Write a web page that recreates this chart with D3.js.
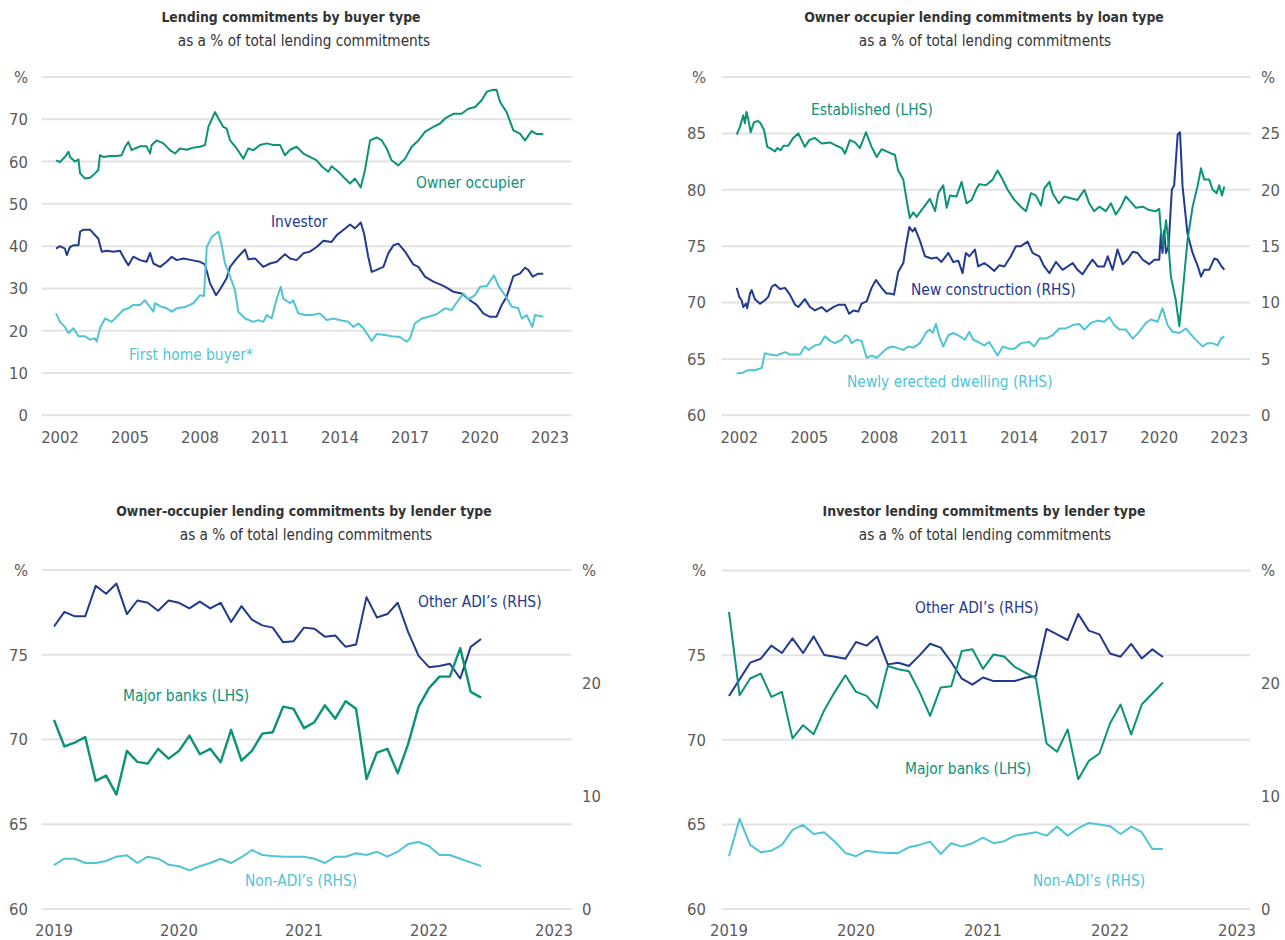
<!DOCTYPE html>
<html><head><meta charset="utf-8">
<script src="https://cdn.jsdelivr.net/npm/d3@7"></script>
<style>
body{margin:0;background:#fff;}
svg text{font-family:"Liberation Sans Narrow","Arial Narrow","DejaVu Sans Condensed",sans-serif;}
</style></head><body>
<svg id="c" width="1285" height="940"></svg>
<script>
// ---------- Panel 1: Lending commitments by buyer type ----------
const ownerDates = [2001.83,2002.00,2002.21,2002.36,2002.43,2002.64,2002.79,2002.86,2003.07,2003.29,2003.50,2003.64,2003.71,2003.86,2004.14,2004.43,2004.64,2004.79,2004.93,2005.07,2005.21,2005.43,2005.71,2005.86,2005.93,2006.14,2006.43,2006.71,2006.93,2007.14,2007.43,2007.71,2008.00,2008.21,2008.36,2008.64,2008.79,2009.00,2009.14,2009.29,2009.57,2009.86,2010.07,2010.29,2010.57,2010.86,2011.14,2011.43,2011.64,2011.86,2012.14,2012.43,2012.71,2013.00,2013.21,2013.50,2013.64,2013.93,2014.21,2014.43,2014.64,2014.89,2015.07,2015.29,2015.57,2015.79,2016.00,2016.21,2016.50,2016.79,2017.07,2017.36,2017.64,2018.00,2018.29,2018.50,2018.86,2019.21,2019.50,2019.79,2020.07,2020.29,2020.50,2020.71,2020.86,2021.14,2021.43,2021.71,2021.93,2022.21,2022.43,2022.71];
const ownerValues = [60.3,59.9,61.1,62.3,61.1,60.0,60.5,57.2,56.0,56.2,57.2,58.0,61.5,61.1,61.3,61.3,61.5,63.5,64.6,62.7,63.1,63.6,63.6,61.9,63.9,65.0,64.3,62.7,61.9,63.1,62.8,63.3,63.5,63.9,68.2,71.7,70.2,68.2,67.8,65.0,63.1,60.7,63.1,62.7,63.9,64.3,63.9,63.9,61.5,62.8,63.5,61.9,61.1,60.3,58.9,57.6,58.9,57.6,56.0,54.8,56.0,53.9,58.0,65.0,65.7,65.0,63.1,60.3,59.1,60.7,63.5,65.0,67.0,68.2,69.0,70.2,71.3,71.3,72.5,72.9,74.5,76.5,76.9,77.0,74.1,71.7,67.4,66.6,65.0,67.2,66.5,66.5];
const investorDates = [2001.83,2002.00,2002.21,2002.29,2002.43,2002.57,2002.79,2002.86,2003.00,2003.29,2003.43,2003.64,2003.79,2004.00,2004.29,2004.57,2004.79,2004.93,2005.14,2005.43,2005.71,2005.86,2006.00,2006.29,2006.57,2006.79,2007.00,2007.29,2007.64,2008.00,2008.21,2008.43,2008.69,2008.86,2009.14,2009.29,2009.57,2009.93,2010.07,2010.36,2010.71,2011.00,2011.29,2011.64,2011.86,2012.14,2012.43,2012.71,2013.00,2013.29,2013.64,2013.86,2014.14,2014.43,2014.64,2014.89,2015.03,2015.21,2015.36,2015.57,2015.86,2016.07,2016.29,2016.50,2016.79,2017.14,2017.36,2017.64,2018.00,2018.36,2018.57,2018.86,2019.21,2019.57,2019.86,2020.14,2020.43,2020.71,2020.93,2021.14,2021.43,2021.71,2021.93,2022.07,2022.26,2022.50,2022.71];
const investorValues = [39.4,40.0,39.4,37.9,39.8,40.2,40.2,43.4,43.9,43.9,43.0,41.8,38.7,38.9,38.7,38.9,36.7,35.5,37.5,36.7,36.3,38.4,35.9,35.1,36.3,37.5,36.7,37.1,36.7,36.3,35.7,31.2,28.4,29.8,32.4,35.1,37.1,39.2,36.9,37.1,35.1,35.9,36.3,38.1,37.1,36.7,38.3,38.7,39.8,41.3,41.0,42.6,43.8,45.1,44.2,45.6,43.0,37.5,33.9,34.4,35.1,38.3,40.2,40.6,38.7,35.7,35.1,32.8,31.6,30.8,30.2,29.2,28.8,27.2,26.1,24.1,23.3,23.3,26.1,28.0,32.9,33.5,34.9,34.4,32.8,33.5,33.5];
const fhbDates = [2001.83,2002.00,2002.21,2002.36,2002.57,2002.79,2003.07,2003.29,2003.50,2003.57,2003.71,2003.93,2004.21,2004.43,2004.71,2004.93,2005.14,2005.43,2005.64,2005.86,2006.00,2006.07,2006.29,2006.57,2006.79,2007.00,2007.36,2007.71,2008.00,2008.17,2008.29,2008.50,2008.79,2008.93,2009.07,2009.29,2009.50,2009.64,2009.93,2010.29,2010.50,2010.71,2010.86,2011.07,2011.29,2011.46,2011.57,2011.86,2012.00,2012.21,2012.50,2012.79,2013.14,2013.43,2013.71,2014.07,2014.36,2014.57,2014.79,2015.00,2015.36,2015.57,2015.93,2016.21,2016.57,2016.86,2017.00,2017.21,2017.50,2017.79,2018.14,2018.50,2018.79,2019.07,2019.29,2019.50,2019.79,2020.00,2020.29,2020.60,2020.79,2021.07,2021.36,2021.64,2021.79,2022.00,2022.24,2022.36,2022.71];
const fhbValues = [24.1,22.1,20.9,19.4,20.6,18.7,18.7,17.9,18.2,17.4,20.6,22.9,22.1,23.3,24.9,25.3,26.1,26.1,27.2,25.6,24.5,26.5,25.8,25.3,24.5,25.3,25.6,26.5,28.4,28.2,39.8,42.2,43.4,40.2,35.9,32.8,29.6,24.5,22.9,22.1,22.5,22.1,23.7,22.9,27.6,30.4,27.6,26.5,27.2,24.1,23.7,23.7,24.1,22.5,22.9,22.4,22.1,20.9,21.7,20.6,17.6,19.2,19.0,18.7,18.5,17.4,18.2,21.7,22.9,23.3,23.9,25.3,24.9,27.2,28.8,27.4,28.4,30.4,30.6,33.1,30.6,28.4,25.7,25.3,22.9,23.7,20.9,23.7,23.3];
const p1YTicks = [0,10,20,30,40,50,60,70,80];
const p1XTicks = [2002,2005,2008,2011,2014,2017,2020,2023];

// ---------- Panel 2: Owner occupier lending commitments by loan type ----------
const establishedDates = [2001.89,2002.03,2002.17,2002.24,2002.31,2002.39,2002.49,2002.63,2002.81,2002.91,2003.06,2003.20,2003.39,2003.53,2003.63,2003.77,2003.89,2004.10,2004.31,2004.53,2004.67,2004.81,2005.00,2005.24,2005.53,2005.89,2006.17,2006.39,2006.53,2006.74,2006.96,2007.17,2007.43,2007.67,2007.89,2008.10,2008.31,2008.53,2008.67,2008.81,2009.03,2009.17,2009.31,2009.46,2009.60,2009.81,2010.03,2010.17,2010.39,2010.53,2010.74,2010.89,2011.03,2011.31,2011.53,2011.74,2011.96,2012.17,2012.29,2012.57,2012.86,2013.07,2013.29,2013.50,2013.79,2014.07,2014.29,2014.50,2014.71,2014.93,2015.07,2015.29,2015.43,2015.69,2015.93,2016.29,2016.50,2016.79,2017.00,2017.21,2017.43,2017.71,2017.93,2018.14,2018.36,2018.57,2018.79,2019.00,2019.29,2019.57,2019.86,2020.00,2020.07,2020.17,2020.29,2020.36,2020.50,2020.71,2020.86,2021.00,2021.21,2021.43,2021.64,2021.79,2021.93,2022.14,2022.29,2022.46,2022.57,2022.69,2022.79];
const establishedValues = [84.9,85.6,86.6,85.9,86.9,86.2,85.1,86.0,86.1,85.9,85.3,83.8,83.6,83.4,83.7,83.5,83.9,83.9,84.6,85.0,84.4,83.8,84.4,84.6,84.1,84.2,83.9,83.7,83.2,84.4,84.2,83.7,85.1,83.8,82.9,83.6,83.4,83.2,83.1,81.7,80.9,79.1,77.5,78.0,77.6,78.2,78.8,79.2,78.1,79.7,80.4,78.4,79.5,79.4,80.7,78.8,79.1,80.1,80.5,80.4,80.9,81.7,80.9,80.0,79.1,78.5,78.1,79.7,79.5,78.6,80.1,80.7,79.7,78.8,79.4,79.2,79.1,80.0,78.8,78.1,78.5,78.1,78.8,77.8,78.5,79.4,78.9,78.4,78.5,78.2,78.1,78.3,76.4,75.0,77.3,76.1,72.3,70.2,67.9,70.8,75.5,78.5,80.3,81.9,80.9,80.9,80.0,79.7,80.4,79.5,80.3];
const newConDates = [2001.89,2002.00,2002.10,2002.17,2002.29,2002.34,2002.46,2002.53,2002.67,2002.89,2003.10,2003.24,2003.39,2003.53,2003.74,2003.96,2004.17,2004.39,2004.53,2004.81,2005.03,2005.24,2005.53,2005.74,2006.03,2006.24,2006.53,2006.71,2006.89,2007.10,2007.24,2007.46,2007.67,2007.86,2008.10,2008.31,2008.46,2008.63,2008.81,2009.03,2009.14,2009.29,2009.43,2009.53,2009.74,2009.96,2010.24,2010.46,2010.67,2010.96,2011.17,2011.39,2011.57,2011.71,2011.86,2012.10,2012.24,2012.50,2012.71,2012.93,2013.14,2013.36,2013.64,2013.86,2014.07,2014.36,2014.57,2014.86,2015.07,2015.29,2015.57,2015.86,2016.07,2016.29,2016.50,2016.71,2016.93,2017.14,2017.36,2017.64,2017.79,2018.00,2018.21,2018.43,2018.64,2018.86,2019.07,2019.29,2019.57,2019.79,2020.00,2020.07,2020.14,2020.21,2020.29,2020.40,2020.54,2020.64,2020.79,2020.89,2021.00,2021.21,2021.43,2021.64,2021.79,2021.93,2022.14,2022.36,2022.50,2022.64,2022.79];
const newConValues = [11.3,10.5,10.2,9.6,9.9,9.5,10.8,11.1,10.3,9.9,10.2,10.5,11.4,11.6,11.2,11.3,10.7,9.8,9.6,10.3,9.6,9.3,9.6,9.2,9.6,9.8,9.8,9.0,9.3,9.2,9.9,10.1,11.3,12.0,11.3,10.8,10.8,10.7,12.7,13.5,15.0,16.7,16.3,16.6,15.5,14.1,13.9,14.0,13.6,14.4,13.6,13.7,12.6,14.4,14.1,14.7,13.2,13.5,13.2,12.8,13.3,13.2,14.1,15.0,15.0,15.4,14.4,14.1,13.2,12.6,13.6,12.9,13.2,13.5,12.9,12.5,13.2,13.8,13.2,13.2,14.1,12.9,14.7,13.4,13.8,14.5,14.4,13.8,13.4,13.8,13.8,16.1,14.4,16.4,14.4,15.0,20.0,20.4,24.9,25.1,20.3,16.1,14.4,13.3,12.3,12.9,12.9,13.9,13.8,13.3,12.9];
const newlyDates = [2001.89,2002.17,2002.39,2002.67,2002.96,2003.10,2003.31,2003.60,2003.96,2004.17,2004.60,2004.81,2004.96,2005.24,2005.46,2005.67,2005.89,2006.10,2006.39,2006.53,2006.67,2006.81,2007.03,2007.24,2007.46,2007.67,2007.89,2008.10,2008.31,2008.53,2008.74,2009.03,2009.24,2009.46,2009.74,2010.03,2010.17,2010.29,2010.43,2010.57,2010.74,2010.96,2011.17,2011.46,2011.67,2011.86,2012.03,2012.24,2012.50,2012.71,2013.07,2013.29,2013.57,2013.79,2014.07,2014.43,2014.64,2014.86,2015.14,2015.43,2015.71,2016.00,2016.29,2016.57,2016.79,2017.07,2017.36,2017.64,2017.86,2018.07,2018.29,2018.57,2018.86,2019.14,2019.43,2019.64,2019.93,2020.14,2020.36,2020.57,2020.86,2021.14,2021.43,2021.71,2021.86,2022.07,2022.29,2022.50,2022.64,2022.79];
const newlyValues = [3.7,3.8,4.0,4.0,4.2,5.5,5.4,5.3,5.6,5.4,5.4,6.1,5.8,6.2,6.3,7.0,6.6,6.4,6.7,7.1,7.0,6.4,6.7,6.6,5.1,5.3,5.1,5.5,5.9,6.1,6.0,5.8,6.1,6.0,6.4,7.4,7.6,7.3,8.1,7.0,6.1,7.1,7.3,7.0,6.7,7.4,6.7,6.5,6.2,6.5,5.3,6.1,5.9,5.9,6.4,6.5,6.1,6.8,6.8,7.1,7.7,7.7,8.0,8.1,7.6,8.2,8.4,8.3,8.7,8.0,7.6,7.6,6.8,7.4,8.2,8.5,8.3,9.5,8.0,7.4,7.3,7.7,7.0,6.4,6.1,6.4,6.4,6.2,6.8,7.0];
const p2LeftTicks = [60,65,70,75,80,85,90];
const p2RightTicks = [0,5,10,15,20,25,30];

// ---------- Panels 3 & 4: monthly, Jan 2019 – Jun 2022 ----------
const lenderMonths = d3.range(42).map(i => 2019 + i / 12);
const ooMajorBanks = [71.16,69.59,69.82,70.14,67.56,67.87,66.75,69.33,68.68,68.58,69.45,68.87,69.33,70.23,69.13,69.45,68.66,70.57,68.75,69.33,70.35,70.43,71.94,71.81,70.67,71.02,72.02,71.23,72.26,71.81,67.66,69.23,69.45,68.01,69.74,71.94,73.03,73.71,73.71,75.39,72.81,72.47];
const ooOtherADIs = [25.0,26.3,25.9,25.9,28.6,27.9,28.8,26.1,27.3,27.1,26.4,27.3,27.1,26.6,27.2,26.6,27.1,25.4,26.8,25.6,25.1,24.9,23.6,23.7,24.9,24.8,24.1,24.2,23.2,23.4,27.6,25.8,26.1,27.1,24.5,22.4,21.4,21.5,21.7,20.4,23.2,23.9];
const ooNonADIs = [3.89,4.45,4.45,4.07,4.07,4.25,4.63,4.75,4.07,4.63,4.45,3.92,3.78,3.42,3.78,4.07,4.45,4.07,4.58,5.22,4.78,4.69,4.63,4.63,4.63,4.45,4.07,4.63,4.63,4.93,4.78,5.07,4.63,5.07,5.75,5.93,5.58,4.78,4.78,4.45,4.13,3.81];
const invMajorBanks = [77.55,72.63,73.62,73.91,72.53,72.83,70.08,70.86,70.33,71.75,72.83,73.81,72.83,72.59,71.88,74.36,74.17,74.05,72.83,71.41,73.09,73.16,75.25,75.35,74.19,75.04,74.92,74.30,73.97,73.62,69.78,69.29,70.61,67.66,68.75,69.19,70.96,72.08,70.31,72.08,72.73,73.38];
const invOtherADIs = [18.87,20.35,21.83,22.18,23.34,22.69,23.98,22.69,24.16,22.51,22.36,22.18,23.66,23.34,24.16,21.68,21.83,21.54,22.48,23.51,23.16,21.89,20.41,19.88,20.52,20.20,20.20,20.20,20.50,20.65,24.82,24.34,23.84,26.15,24.67,24.34,22.65,22.36,23.49,22.21,23.01,22.33];
const invNonADIs = [4.68,7.99,5.68,5.03,5.17,5.68,7.01,7.45,6.65,6.81,5.97,4.97,4.68,5.17,5.03,4.97,4.97,5.47,5.68,5.97,4.88,5.83,5.53,5.83,6.33,5.83,6.01,6.50,6.65,6.81,6.50,7.30,6.50,7.16,7.63,7.48,7.34,6.65,7.30,6.81,5.32,5.32];
const lenderLeftTicks = [60,65,70,75,80];
const lenderRightTicks = [0,10,20,30];
const lenderXTicks = [2019,2020,2021,2022,2023];

// ---------- drawing ----------
const TEAL = "#0b9279", NAVY = "#223a8e", CYAN = "#4fc4d5";
const GRID = "#e2e2e2", TICK = "#5a5a5a";
const svg = d3.select("#c");

function pairs(d, v){ return d.map((t,i)=>[t, v[i]]); }

function drawPanel(p){
  const g = svg.append("g");
  const x = d3.scaleLinear().domain(p.xDomain).range(p.xRange);
  const yL = d3.scaleLinear().domain(p.yLDomain).range(p.yRange);
  const yR = p.yRDomain ? d3.scaleLinear().domain(p.yRDomain).range(p.yRange) : null;
  g.selectAll(".grid").data(p.leftTicks).join("line")
    .attr("x1", p.xRange[0]).attr("x2", p.xRange[1])
    .attr("y1", d=>yL(d)).attr("y2", d=>yL(d))
    .attr("stroke", GRID).attr("stroke-width", 2);
  const topL = p.leftTicks[p.leftTicks.length-1];
  g.selectAll(".ltick").data(p.leftTicks).join("text")
    .attr("x", p.leftLabelX).attr("y", d=>yL(d)).attr("dy","0.36em")
    .attr("text-anchor","end").attr("fill",TICK).attr("font-size",16.5)
    .text(d=> d===topL ? "%" : d);
  if (yR){
    const topR = p.rightTicks[p.rightTicks.length-1];
    g.selectAll(".rtick").data(p.rightTicks).join("text")
      .attr("x", p.rightLabelX).attr("y", d=>yR(d)).attr("dy","0.36em")
      .attr("text-anchor","start").attr("fill",TICK).attr("font-size",16.5)
      .text(d=> d===topR ? "%" : d);
  }
  g.selectAll(".xtick").data(p.xTicks).join("text")
    .attr("x", d=>x(d)).attr("y", p.xLabelY).attr("dy","0.36em")
    .attr("text-anchor","middle").attr("fill",TICK).attr("font-size",16.5)
    .text(d=>d);
  p.series.forEach(s=>{
    const y = s.axis === "R" ? yR : yL;
    const line = d3.line().x(d=>x(d[0])).y(d=>y(d[1]));
    g.append("path").datum(s.data).attr("d", line)
      .attr("fill","none").attr("stroke", s.color).attr("stroke-width", s.width || 2)
      .attr("stroke-linejoin","round");
    g.append("text").attr("x", s.label[0]).attr("y", s.label[1]).attr("dy","0.36em")
      .attr("text-anchor","start").attr("fill", s.color).attr("font-size",15.4)
      .text(s.name);
  });
  g.append("text").attr("x", p.titleX).attr("y", p.titleY).attr("text-anchor","middle")
    .attr("font-weight","bold").attr("font-size",13.9).attr("fill","#333").text(p.title);
  g.append("text").attr("x", p.subX).attr("y", p.titleY+24).attr("text-anchor","middle")
    .attr("font-size",15.2).attr("fill","#333").text("as a % of total lending commitments");
}

drawPanel({
  title:"Lending commitments by buyer type", titleX:291, subX:304, titleY:22,
  xDomain:[2001.215, 2023.93], xRange:[41.7, 571.7],
  yLDomain:[0,80], yRange:[415.3, 77], leftTicks:p1YTicks, leftLabelX:28,
  xTicks:p1XTicks, xLabelY:437,
  series:[
    {name:"Owner occupier", color:TEAL, data:pairs(ownerDates, ownerValues), label:[416,182]},
    {name:"Investor", color:NAVY, data:pairs(investorDates, investorValues), label:[271,221]},
    {name:"First home buyer*", color:CYAN, data:pairs(fhbDates, fhbValues), label:[129,354]}
  ]
});

drawPanel({
  title:"Owner occupier lending commitments by loan type", titleX:984, subX:985, titleY:22,
  xDomain:[2001.246, 2023.89], xRange:[721.7, 1250],
  yLDomain:[60,90], yRange:[415.3, 77], leftTicks:p2LeftTicks, leftLabelX:706,
  yRDomain:[0,30], rightTicks:p2RightTicks, rightLabelX:1261,
  xTicks:p1XTicks, xLabelY:437,
  series:[
    {name:"Newly erected dwelling (RHS)", color:CYAN, axis:"R", data:pairs(newlyDates, newlyValues), label:[847,381]},
    {name:"New construction (RHS)", color:NAVY, axis:"R", data:pairs(newConDates, newConValues), label:[911,289]},
    {name:"Established (LHS)", color:TEAL, data:pairs(establishedDates, establishedValues), label:[811,109]}
  ]
});

drawPanel({
  title:"Owner-occupier lending commitments by lender type", titleX:304, subX:306, titleY:516,
  xDomain:[2018.9016, 2023.1416], xRange:[41.7, 571.7],
  yLDomain:[60,80], yRange:[909, 570], leftTicks:lenderLeftTicks, leftLabelX:28,
  yRDomain:[0,30], rightTicks:lenderRightTicks, rightLabelX:582,
  xTicks:lenderXTicks, xLabelY:930,
  series:[
    {name:"Non-ADI\u2019s (RHS)", color:CYAN, axis:"R", data:pairs(lenderMonths, ooNonADIs), label:[245,880]},
    {name:"Other ADI\u2019s (RHS)", color:NAVY, axis:"R", data:pairs(lenderMonths, ooOtherADIs), label:[418,601]},
    {name:"Major banks (LHS)", color:TEAL, width:2.4, data:pairs(lenderMonths, ooMajorBanks), label:[123,695]}
  ]
});

drawPanel({
  title:"Investor lending commitments by lender type", titleX:984, subX:985, titleY:516,
  xDomain:[2018.9425, 2023.1024], xRange:[721.7, 1250],
  yLDomain:[60,80], yRange:[909, 570.5], leftTicks:lenderLeftTicks, leftLabelX:706,
  yRDomain:[0,30], rightTicks:lenderRightTicks, rightLabelX:1261,
  xTicks:lenderXTicks, xLabelY:930,
  series:[
    {name:"Non-ADI\u2019s (RHS)", color:CYAN, axis:"R", data:pairs(lenderMonths, invNonADIs), label:[1033,880]},
    {name:"Other ADI\u2019s (RHS)", color:NAVY, axis:"R", data:pairs(lenderMonths, invOtherADIs), label:[915,607]},
    {name:"Major banks (LHS)", color:TEAL, data:pairs(lenderMonths, invMajorBanks), label:[905,768]}
  ]
});
</script>
</body></html>
